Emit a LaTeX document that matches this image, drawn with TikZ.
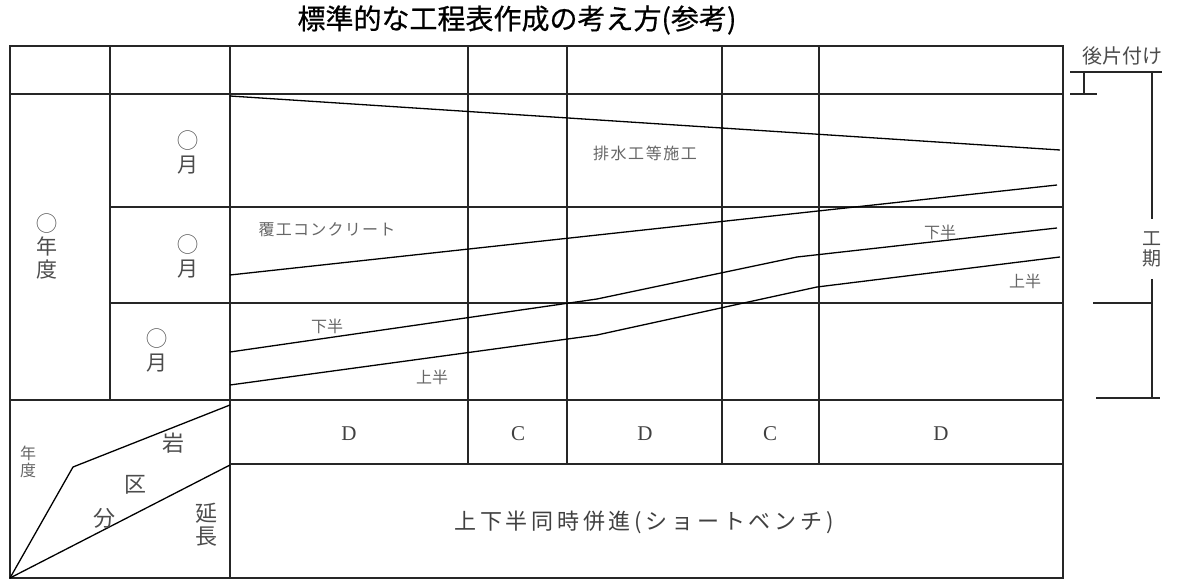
\documentclass[tikz,border=0pt]{standalone}
\usepackage{fontspec}
\setmainfont{Liberation Serif}
\newfontfamily\jp{Noto Sans CJK JP}
\newcommand{\fsz}[1]{\fontsize{#1}{#1}\selectfont}
\begin{document}
\begin{tikzpicture}[x=1pt,y=-1pt,
  grid/.style={line width=1.7pt, draw=black!85},
  prog/.style={line width=1.3pt, draw=black},
  brk/.style={line width=1.4pt, draw=black!85},
  lbl/.style={font=\jp\fsz{16}, text=black!60, inner sep=0pt},
  vlbl/.style={font=\jp\fsz{21}, text=black!70, inner sep=0pt, align=center},
  cell/.style={font=\fsz{21}, text=black!75, inner sep=0pt}]
\useasboundingbox (0,0) rectangle (1179,580);
% title
\node[font=\jp\fsz{28}, inner sep=0pt] (title) at (517,20) {\addfontfeatures{FakeBold=0.6}標準的な工程表作成の考え方(参考)};
% grid
\draw[grid] (10,46) rectangle (1063,578);
\draw[grid] (10,94) -- (1063,94);
\draw[grid] (110,207) -- (1063,207);
\draw[grid] (110,303) -- (1063,303);
\draw[grid] (10,400) -- (1063,400);
\draw[grid] (230,464) -- (1063,464);
\draw[grid] (110,46) -- (110,400);
\draw[grid] (230,46) -- (230,578);
\foreach \x in {468,567,722,819} \draw[grid] (\x,46) -- (\x,464);
% progress lines
\coordinate (a0) at (230,96); \coordinate (a1) at (1060,150);
\draw[prog] (a0) -- (a1);
\coordinate (b0) at (230,275); \coordinate (b1) at (1057,185);
\draw[prog] (b0) -- (b1);
\coordinate (c0) at (230,352); \coordinate (c1) at (597,299); \coordinate (c2) at (797,257); \coordinate (c3) at (1057,228);
\draw[prog] (c0) -- (c1) -- (c2) -- (c3);
\coordinate (d0) at (230,385); \coordinate (d1) at (597,335); \coordinate (d2) at (817,287); \coordinate (d3) at (1060,257);
\draw[prog] (d0) -- (d1) -- (d2) -- (d3);
% chart labels
\node[lbl] (haisui) at (645,153) {\addfontfeatures{LetterSpace=10}排水工等施工};
\node[lbl] (fukko) at (327,230) {\addfontfeatures{LetterSpace=8}覆工コンクリート};
\node[lbl] (kaha1) at (327,326) {下半};
\node[lbl] (joha1) at (432,377) {上半};
\node[lbl] (kaha2) at (940,232) {下半};
\node[lbl] (joha2) at (1025,281) {上半};
% left column labels
\node[vlbl] (nendo) at (47,246) {◯\\[2pt]年\\[2pt]度};
\node[vlbl] (m1) at (188,152) {◯\\[3pt]月};
\node[vlbl] (m2) at (188,256) {◯\\[3pt]月};
\node[vlbl] (m3) at (157,350) {◯\\[3pt]月};
% bottom left cell
\coordinate (bl) at (10,578); \coordinate (k) at (73,467);
\coordinate (tr) at (230,405); \coordinate (mr) at (230,465);
\draw[prog] (bl) -- (k) -- (tr);
\draw[prog] (bl) -- (mr);
\node[font=\jp\fsz{16}, text=black!60, inner sep=0pt, align=center] (nendo2) at (28,462) {年\\[1pt]度};
\node[font=\jp\fsz{22}, text=black!70, inner sep=0pt] (iwa) at (173,443) {岩};
\node[font=\jp\fsz{22}, text=black!70, inner sep=0pt] (ku) at (135,485) {区};
\node[font=\jp\fsz{22}, text=black!70, inner sep=0pt] (bun) at (104,518) {分};
\node[font=\jp\fsz{22}, text=black!70, inner sep=0pt, align=center] (encho) at (206,525) {延\\[1pt]長};
% D/C row
\node[cell] (r1) at (349,434) {D};
\node[cell] (r2) at (518,434) {C};
\node[cell] (r3) at (645,434) {D};
\node[cell] (r4) at (770,434) {C};
\node[cell] (r5) at (941,434) {D};
\node[font=\jp\fsz{22}, text=black!75, inner sep=0pt] (bench) at (644,522) {\addfontfeatures{LetterSpace=17}上下半同時併進(ショートベンチ)};
% right brackets
\node[font=\jp\fsz{20}, text=black!70, inner sep=0pt] (ato) at (1122,56) {後片付け};
\draw[brk] (1070,72) -- (1162,72);
\draw[brk] (1084,72) -- (1084,94);
\draw[brk] (1070,94) -- (1097,94);
\node[font=\jp\fsz{19}, text=black!70, inner xsep=0pt, inner ysep=12pt, align=center] (koki) at (1152,249) {工\\[1pt]期};
\draw[brk] (1152,72) -- (koki.north);
\draw[brk] (koki.south) -- (1152,398);
\draw[brk] (1093,303) -- (1152,303);
\draw[brk] (1096,398) -- (1160,398);
\end{tikzpicture}
\end{document}
